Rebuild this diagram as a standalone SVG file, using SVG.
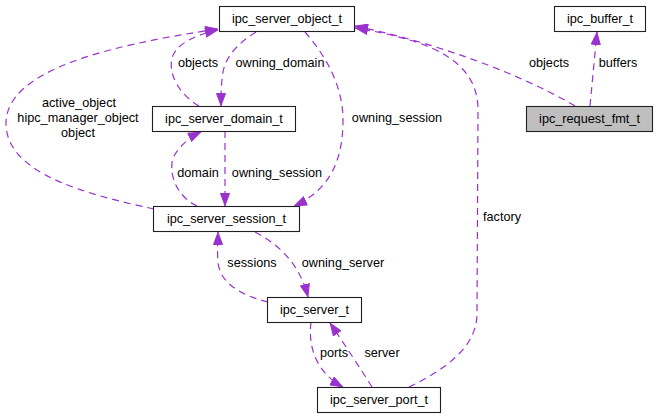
<svg xmlns="http://www.w3.org/2000/svg" width="657" height="419" viewBox="0 0 657 419">
<style>
.node rect{fill:#ffffff;stroke:#202020;stroke-width:1.1}
.node.hl rect{fill:#bfbfbf}
text{font-family:"Liberation Sans",Arial,sans-serif;font-size:12.7px;fill:#000000;text-anchor:middle}
.edge{fill:none;stroke:#9a32cd;stroke-width:1.2;stroke-dasharray:7,5}
</style>
<defs>
<marker id="ah" viewBox="0 0 13 10" refX="13" refY="5" markerWidth="13" markerHeight="10" markerUnits="userSpaceOnUse" orient="auto">
<path d="M0.5,0.5 L12.5,5 L0.5,9.5 z" fill="#9a32cd" stroke="#9a32cd" stroke-width="1"/>
</marker>
</defs>
<rect width="657" height="419" fill="#ffffff"/>
<g id="connectors">
<path class="edge" marker-end="url(#ah)" d="M154,209 C 90,195 8,175 6,125 C 4,70 110,45 218,29"/>
<path class="edge" marker-end="url(#ah)" d="M199,106 C 180,95 168,75 172,58 C 176,44 195,35 218,30"/>
<path class="edge" marker-end="url(#ah)" d="M256,32 C 240,42 226,55 223,72 C 221,85 221,95 221,106"/>
<path class="edge" marker-end="url(#ah)" d="M305,32 C 325,55 343,85 343,120 C 343,160 330,190 294,206"/>
<path class="edge" marker-end="url(#ah)" d="M197,206 C 180,198 170,180 172,163 C 174,150 188,138 201,132"/>
<path class="edge" marker-end="url(#ah)" d="M225,131 L225,206"/>
<path class="edge" marker-end="url(#ah)" d="M575,106 C 540,85 460,48 355,26"/>
<path class="edge" marker-end="url(#ah)" d="M590,106 L597,32"/>
<path class="edge" marker-end="url(#ah)" d="M409,387 C 440,372 476,350 477,315 L478,110 C 478,60 430,40 355,28"/>
<path class="edge" marker-end="url(#ah)" d="M268,302 C 240,295 220,283 218,262 C 217,250 218,240 218,232"/>
<path class="edge" marker-end="url(#ah)" d="M255,232 C 280,245 300,265 308,297"/>
<path class="edge" marker-end="url(#ah)" d="M311,322 C 308,345 315,372 343,387"/>
<path class="edge" marker-end="url(#ah)" d="M372,387 C 360,368 345,345 330,323"/>
<text x="79" y="107">active_object</text>
<text x="78" y="122">hipc_manager_object</text>
<text x="78" y="137">object</text>
<text x="198" y="67">objects</text>
<text x="280" y="67">owning_domain</text>
<text x="397" y="122">owning_session</text>
<text x="198" y="177">domain</text>
<text x="277" y="177">owning_session</text>
<text x="549" y="67">objects</text>
<text x="618" y="67">buffers</text>
<text x="502" y="221">factory</text>
<text x="252" y="267">sessions</text>
<text x="343" y="267">owning_server</text>
<text x="334" y="357">ports</text>
<text x="382" y="357">server</text>
</g>
<g id="ipc_server_object_t" class="node"><rect x="219.5" y="6.5" width="135" height="25"/><text x="287" y="23">ipc_server_object_t</text></g>
<g id="ipc_buffer_t" class="node"><rect x="554.5" y="6.5" width="91" height="25"/><text x="600" y="23">ipc_buffer_t</text></g>
<g id="ipc_request_fmt_t" class="node hl"><rect x="526.5" y="106.5" width="126" height="25"/><text x="589.5" y="123">ipc_request_fmt_t</text></g>
<g id="ipc_server_domain_t" class="node"><rect x="152.5" y="106.5" width="143" height="25"/><text x="224" y="123">ipc_server_domain_t</text></g>
<g id="ipc_server_session_t" class="node"><rect x="153.5" y="206.5" width="146" height="25"/><text x="226.5" y="223">ipc_server_session_t</text></g>
<g id="ipc_server_t" class="node"><rect x="267.5" y="297.5" width="94" height="25"/><text x="314.5" y="314">ipc_server_t</text></g>
<g id="ipc_server_port_t" class="node"><rect x="317.5" y="387.5" width="123" height="25"/><text x="379" y="404">ipc_server_port_t</text></g>
</svg>
